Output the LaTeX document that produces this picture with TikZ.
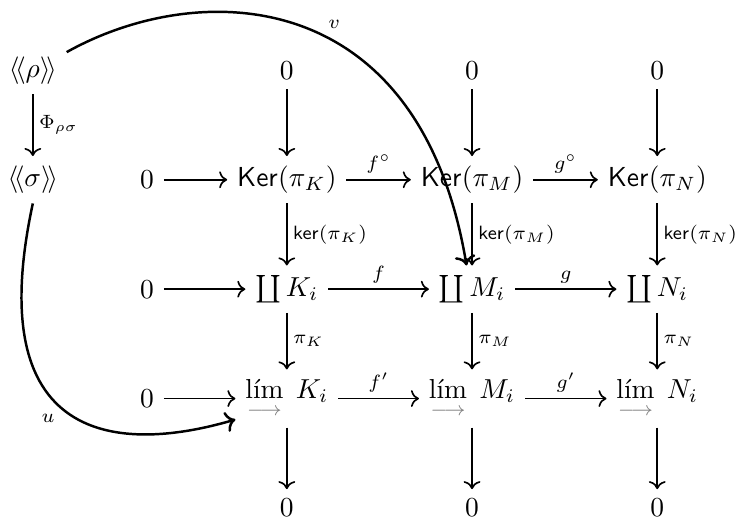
\documentclass[tikz,border=0pt]{standalone}
\usepackage{amsmath, amssymb}
\usepackage{xcolor}
\usepackage{tikz}
\usetikzlibrary{positioning, arrows.meta}

\newcommand{\dlim}{\mathop{\underset{\textcolor{gray}{\longrightarrow}}{\text{lím}}}}
\newcommand{\Kr}{\mathsf{Ker}}
\newcommand{\kr}{\mathsf{ker}}

\begin{document}
\begin{tikzpicture}[node distance=1.4cm, on grid, auto, line width=0.6pt,
    >={Computer Modern Rightarrow},
    lbl/.style={font=\scriptsize, inner sep=2pt}]
       \useasboundingbox (-0.42,0.9) rectangle (9.10,-5.77);
       % left column
       \node (rho) {$\langle\!\langle\rho\rangle\!\rangle$};
       \node (sigma) [below=of rho] {$\langle\!\langle\sigma\rangle\!\rangle$};
       % top zeros
       \node (z1) [right=3.25cm of rho] {$0$};
       \node (z2) [right=2.37cm of z1] {$0$};
       \node (z3) [right=2.37cm of z2] {$0$};
       % kernels
       \node (k1) [below=of z1] {$\Kr(\pi_K)$};
       \node (k2) [below=of z2] {$\Kr(\pi_M)$};
       \node (k3) [below=of z3] {$\Kr(\pi_N)$};
       \node (a1) [left=1.79cm of k1] {$0$};
       % coproducts
       \node (c1) [below=of k1] {$\coprod K_i$};
       \node (c2) [below=of k2] {$\coprod M_i$};
       \node (c3) [below=of k3] {$\coprod N_i$};
       \node (a2) [left=1.79cm of c1] {$0$};
       % limits
       \node (l1) [below=of c1] {$\dlim\; K_i$};
       \node (l2) [below=of c2] {$\dlim\; M_i$};
       \node (l3) [below=of c3] {$\dlim\; N_i$};
       \node (a3) [left=1.79cm of l1] {$0$};
       % bottom zeros
       \node (b1) [below=of l1] {$0$};
       \node (b2) [below=of l2] {$0$};
       \node (b3) [below=of l3] {$0$};

       \path[->]
       (rho) edge node [lbl] {$\Phi_{\rho\sigma}$} (sigma)
       (z1) edge (k1)
       (z2) edge (k2)
       (z3) edge (k3)
       (a1) edge (k1)
       (k1) edge node [lbl] {$f^\circ$} (k2)
            edge node [lbl] {$\kr(\pi_K)$} (c1)
       (k2) edge node [lbl] {$g^\circ$} (k3)
            edge node [lbl] {$\kr(\pi_M)$} (c2)
       (k3) edge node [lbl] {$\kr(\pi_N)$} (c3)
       (a2) edge (c1)
       (c1) edge node [lbl] {$f$} (c2)
            edge node [lbl] {$\pi_K$} (l1)
       (c2) edge node [lbl] {$g$} (c3)
            edge node [lbl] {$\pi_M$} (l2)
       (c3) edge node [lbl] {$\pi_N$} (l3)
       (a3) edge (l1)
       (l1) edge node [lbl] {$f'$} (l2)
            edge (b1)
       (l2) edge node [lbl] {$g'$} (l3)
            edge (b2)
       (l3) edge (b3);

       \draw[->, line width=0.9pt] ([yshift=-2pt]rho.north east) .. controls +(1.7,0.95) and +(-0.6,3.6) .. ([xshift=-2pt]c2.north)
           node [lbl, pos=.55, above right] {$v$};
       \draw[->, line width=0.9pt] (sigma.south) .. controls +(-0.69,-3.2) and +(-1.36,-0.4) .. ([yshift=3pt]l1.south west)
           node [lbl, pos=.45, below left] {$u$};
    \end{tikzpicture}
\end{document}
